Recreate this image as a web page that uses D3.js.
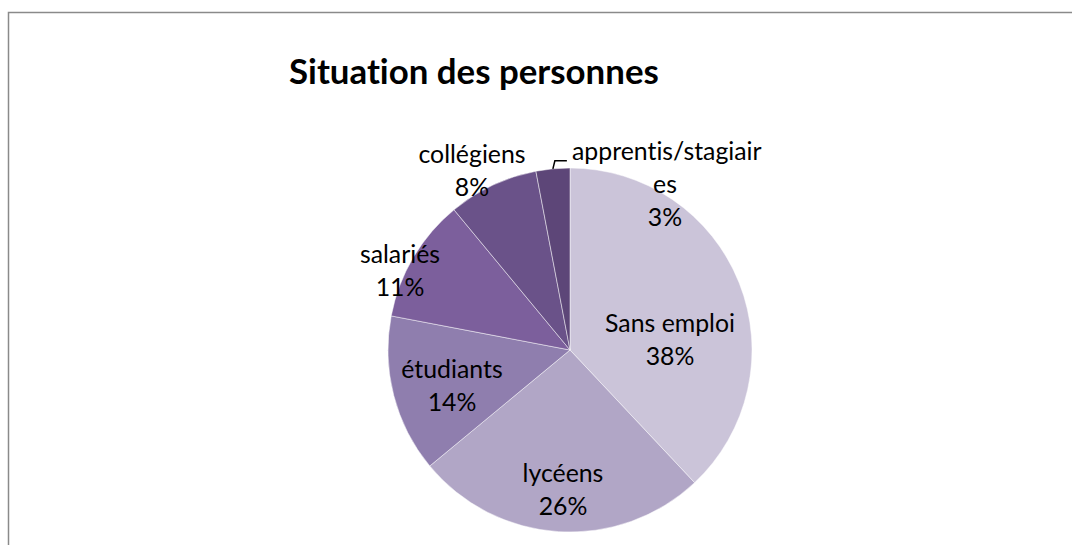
<!DOCTYPE html>
<html>
<head>
<meta charset="utf-8">
<script src="https://cdn.jsdelivr.net/npm/d3@7"></script>
<style>
  html, body { margin: 0; padding: 0; background: #fff; }
  svg { display: block; }
  text { font-variant-ligatures: none; font-feature-settings: "liga" 0, "clig" 0; }
</style>
</head>
<body>
<svg id="chart" width="1072" height="545"></svg>
<script>
// ---- data ----
const categories = ["Sans emploi", "lycéens", "étudiants", "salariés", "collégiens", "apprentis/stagiaires"];
const labelLines = [["Sans emploi"], ["lycéens"], ["étudiants"], ["salariés"], ["collégiens"], ["apprentis/stagiair", "es"]];
const values = [38, 26, 14, 11, 8, 3];
const colors = ["#CBC4D9", "#B1A6C6", "#8F7EAE", "#7C5F9C", "#6A5289", "#5D4678"];
const title = "Situation des personnes";

// ---- layout ----
const W = 1072, H = 545;
const cx = 570, cy = 350, R = 182;
const lineStep = 33;
// label block offsets (first baseline) relative to pie centre
const labelOffsets = [
  {dx: 100, dy: -18},
  {dx: -7, dy: 132},
  {dx: -118, dy: 28},
  {dx: -170, dy: -87},
  {dx: -98, dy: -187},
  {dx: 95, dy: -190}
];

const svg = d3.select("#chart");
const fontFamily = "Lato, 'Open Sans', 'Liberation Sans', sans-serif";

// border
svg.append("rect")
  .attr("x", 8.5).attr("y", 12.5)
  .attr("width", W + 20).attr("height", H + 20)
  .attr("fill", "#fff")
  .attr("stroke", "#8a8a8a")
  .attr("stroke-width", 1.5);

// title, fitted to measured width
const titleEl = svg.append("text")
  .attr("x", 289).attr("y", 84)
  .attr("font-family", fontFamily)
  .attr("font-weight", "bold")
  .attr("font-size", 30)
  .attr("fill", "#000")
  .text(title);
{
  const w = titleEl.node().getComputedTextLength();
  titleEl.attr("font-size", 30 * 370 / w);
}

// pie
const pie = d3.pie().sort(null).value(d => d)
  .startAngle(0).endAngle(2 * Math.PI);
const arcs = pie(values);
const arc = d3.arc().innerRadius(0).outerRadius(R);

const g = svg.append("g").attr("transform", `translate(${cx},${cy})`);
g.selectAll("path.slice")
  .data(arcs)
  .enter().append("path")
  .attr("class", "slice")
  .attr("d", arc)
  .attr("fill", (d, i) => colors[i])
  .attr("stroke", "#ffffff")
  .attr("stroke-opacity", 0.6)
  .attr("stroke-width", 0.8);

// measure label font size to match reference width of "Sans emploi" (~130px)
const probe = svg.append("text").attr("font-family", fontFamily).attr("font-size", 26).text("Sans emploi");
const lblSize = 26 * 130 / probe.node().getComputedTextLength();
probe.remove();

const pctText = d => Math.round(d.value / d3.sum(values) * 100) + "%";

arcs.forEach((d, i) => {
  const off = labelOffsets[i];
  const lines = labelLines[i].concat([pctText(d)]);
  const x0 = cx + off.dx, y0 = cy + off.dy;
  const t = svg.append("text")
    .attr("font-family", fontFamily)
    .attr("font-size", lblSize)
    .attr("fill", "#000");
  if (i === 5) {
    // first line starts right after the leader line; others centred
    t.append("tspan").attr("x", 572).attr("y", y0).attr("text-anchor", "start").text(lines[0]);
    lines.slice(1).forEach((ln, k) => {
      t.append("tspan").attr("x", x0).attr("y", y0 + (k + 1) * lineStep)
        .attr("text-anchor", "middle").text(ln);
    });
  } else {
    t.attr("text-anchor", "middle");
    lines.forEach((ln, k) => {
      t.append("tspan").attr("x", x0).attr("y", y0 + k * lineStep).text(ln);
    });
  }
});

// leader line for the small slice
{
  const d = arcs[5];
  const mid = (d.startAngle + d.endAngle) / 2;
  const px = cx + R * Math.sin(mid), py = cy - R * Math.cos(mid);
  svg.append("path")
    .attr("d", `M${px},${py} L${px + 2},${py - 8} L${px + 14},${py - 8}`)
    .attr("fill", "none")
    .attr("stroke", "#000")
    .attr("stroke-width", 1.5);
}
</script>
</body>
</html>
